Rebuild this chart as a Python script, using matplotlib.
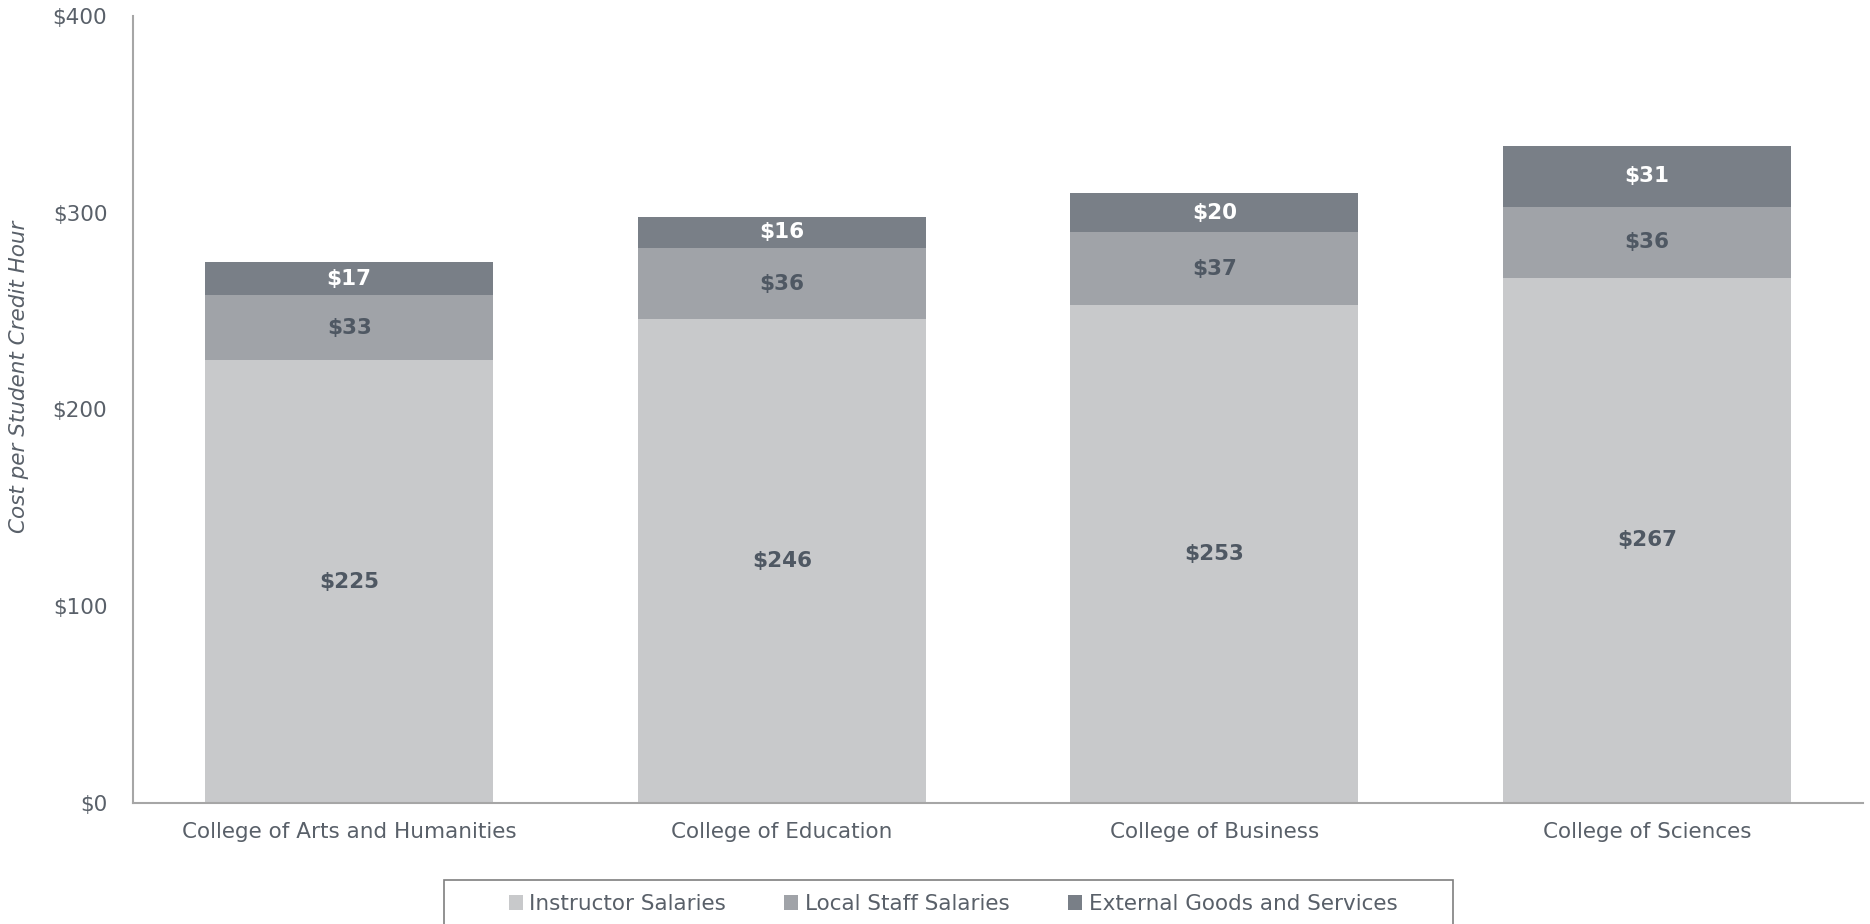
import matplotlib
matplotlib.use("Agg")
import matplotlib.pyplot as plt
from matplotlib.patches import Rectangle, Patch
import numpy as np

colleges = ["College of Arts and Humanities", "College of Education",
            "College of Business", "College of Sciences"]
instructor = [225, 246, 253, 267]
local_staff = [33, 36, 37, 36]
external = [17, 16, 20, 31]
series_names = ["Instructor Salaries", "Local Staff Salaries", "External Goods and Services"]
y_ticks = [0, 100, 200, 300, 400]

colors = ["#C8C9CB", "#A0A3A8", "#797F87"]
label_colors = ["#4F5863", "#4F5863", "#FFFFFF"]
text_color = "#596069"
spine_color = "#A6A6A6"
fs = 15.5

plt.rcParams["font.family"] = ["DejaVu Sans"]

W, H = 1870, 924
fig = plt.figure(figsize=(W / 100, H / 100), dpi=100)
ax_left, ax_right, ax_top, ax_bottom = 133, 1863, 16, 803
ax = fig.add_axes([ax_left / W, 1 - ax_bottom / H,
                   (ax_right - ax_left) / W, (ax_bottom - ax_top) / H])

x = np.arange(len(colleges))
width = 0.667
bottom = np.zeros(len(colleges))
for vals, col, lc in zip([instructor, local_staff, external], colors, label_colors):
    vals = np.array(vals, dtype=float)
    ax.bar(x, vals, width, bottom=bottom, color=col, edgecolor="none")
    for xi, b, v in zip(x, bottom, vals):
        ax.text(xi, b + v / 2, f"${v:.0f}", ha="center", va="center",
                fontsize=fs, fontweight="bold", color=lc)
    bottom += vals

ax.set_xlim(-0.5, len(colleges) - 0.5)
ax.set_ylim(0, 400)
ax.set_yticks(y_ticks)
ax.set_yticklabels([f"${v}" for v in y_ticks])
ax.set_xticks(x)
ax.set_xticklabels(colleges)
ax.tick_params(axis="both", length=0, labelsize=fs, colors=text_color)
ax.tick_params(axis="x", pad=14)
ax.tick_params(axis="y", pad=18.5)

for s in ["top", "right"]:
    ax.spines[s].set_visible(False)
for s in ["left", "bottom"]:
    ax.spines[s].set_color(spine_color)
    ax.spines[s].set_linewidth(1.5)

ax.set_ylabel("Cost per Student Credit Hour", fontsize=fs, style="italic",
              color=text_color)
ax.yaxis.set_label_coords((29 - ax_left) / (ax_right - ax_left),
                          (ax_bottom - 377) / (ax_bottom - ax_top))

# Legend box running off the bottom edge
fig.patches.append(Rectangle((444 / W, -0.05), (1453 - 444) / W, 0.05 + 1 - 880 / H,
                             transform=fig.transFigure, fill=False,
                             edgecolor="#7F7F7F", linewidth=1.2))
handles = [Patch(facecolor=c, edgecolor="none") for c in colors]
fig.legend(handles, series_names, loc="center", bbox_to_anchor=(953 / W, 1 - 904 / H),
           ncol=3, frameon=False, fontsize=fs, handlelength=0.65, handleheight=0.65,
           handletextpad=0.3, columnspacing=2.72, labelcolor=text_color)

fig.savefig("out.png", dpi=100)
